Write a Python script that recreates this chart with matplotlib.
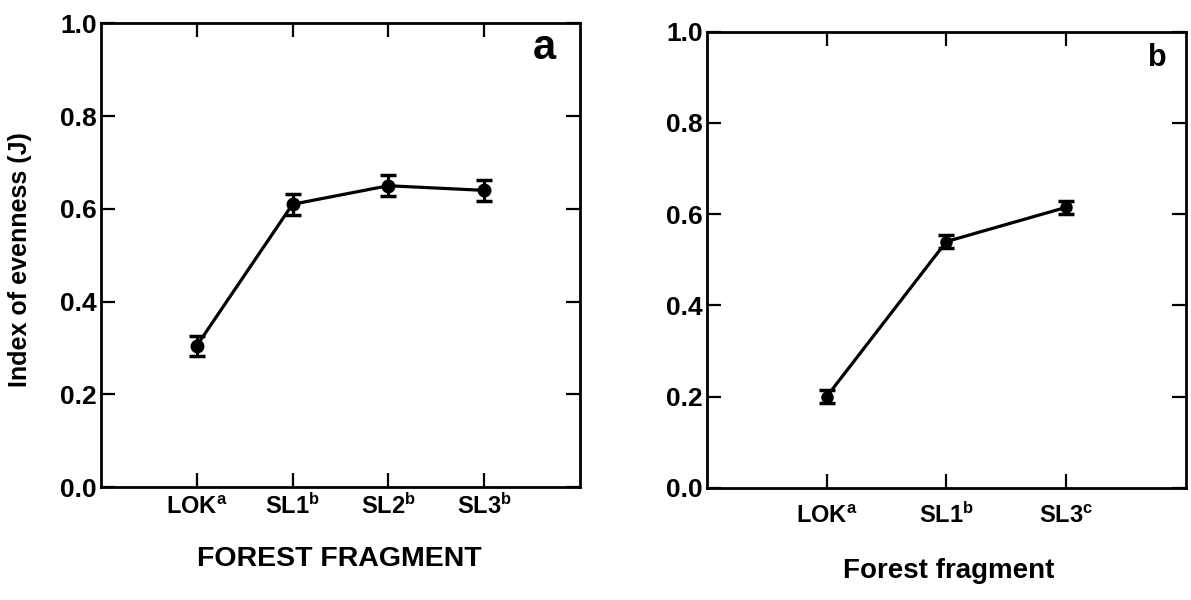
import matplotlib
matplotlib.use("Agg")
from matplotlib import pyplot as plt

# data
sites_a = ["LOK$^a$", "SL1$^b$", "SL2$^b$", "SL3$^b$"]
even_a = [0.305, 0.61, 0.65, 0.64]
err_a = [0.022, 0.023, 0.023, 0.023]

sites_b = ["LOK$^a$", "SL1$^b$", "SL3$^c$"]
even_b = [0.20, 0.54, 0.615]
err_b = [0.015, 0.014, 0.014]

yticks = [0.0, 0.2, 0.4, 0.6, 0.8, 1.0]

plt.rcParams["font.family"] = ["Liberation Sans", "DejaVu Sans"]
plt.rcParams["font.weight"] = "bold"
plt.rcParams["mathtext.fontset"] = "custom"
plt.rcParams["mathtext.bf"] = "Liberation Sans:bold"
plt.rcParams["mathtext.rm"] = "Liberation Sans:bold"
plt.rcParams["mathtext.default"] = "bf"


def style_axis(ax, n, xpad):
    ax.set_xlim(0, n + 1)
    ax.set_ylim(0, 1.0)
    ax.set_yticks(yticks)
    ax.set_yticklabels([f"{t:.1f}" for t in yticks])
    for s in ax.spines.values():
        s.set_linewidth(2.0)
    ax.tick_params(axis="both", direction="in", top=True, right=True,
                   length=10, width=1.6)
    ax.tick_params(axis="y", labelsize=19, pad=3)
    ax.tick_params(axis="x", labelsize=17, pad=xpad)
    for lab in ax.get_yticklabels():
        lab.set_fontweight("bold")
    # keep category labels on a common baseline
    for lab in ax.get_xticklabels():
        lab.set_fontweight("bold")
        lab.set_verticalalignment("baseline")


fig = plt.figure(figsize=(11.91, 6.0), dpi=100)

# panel a
ax1 = fig.add_axes([0.0848, 0.188, 0.402, 0.773])
xa = list(range(1, len(sites_a) + 1))
ax1.errorbar(xa, even_a, yerr=err_a, color="black", linewidth=2.3,
             marker="o", markersize=9, capsize=6, capthick=2.5, elinewidth=2.3)
ax1.set_xticks(xa)
ax1.set_xticklabels(sites_a)
style_axis(ax1, len(sites_a), 19)
ax1.set_ylabel("Index of evenness (J)", fontsize=18, fontweight="bold")
ax1.yaxis.set_label_coords(-0.144, 0.49)
ax1.set_xlabel("FOREST FRAGMENT", fontsize=20.5, fontweight="bold")
ax1.xaxis.set_label_coords(0.497, -0.127)
ax1.text(0.927, 0.946, "a", transform=ax1.transAxes, fontsize=30,
         fontweight="bold", ha="center", va="center")

# panel b
ax2 = fig.add_axes([0.5936, 0.187, 0.402, 0.76])
xb = list(range(1, len(sites_b) + 1))
ax2.errorbar(xb, even_b, yerr=err_b, color="black", linewidth=2.3,
             marker="o", markersize=8, capsize=6, capthick=2.5, elinewidth=3)
ax2.set_xticks(xb)
ax2.set_xticklabels(sites_b)
style_axis(ax2, len(sites_b), 25)
ax2.set_xlabel("Forest fragment", fontsize=20, fontweight="bold")
ax2.xaxis.set_label_coords(0.505, -0.154)
ax2.text(0.94, 0.942, "b", transform=ax2.transAxes, fontsize=22,
         fontweight="bold", ha="center", va="center")

plt.savefig("out.png", dpi=100)
plt.close()
